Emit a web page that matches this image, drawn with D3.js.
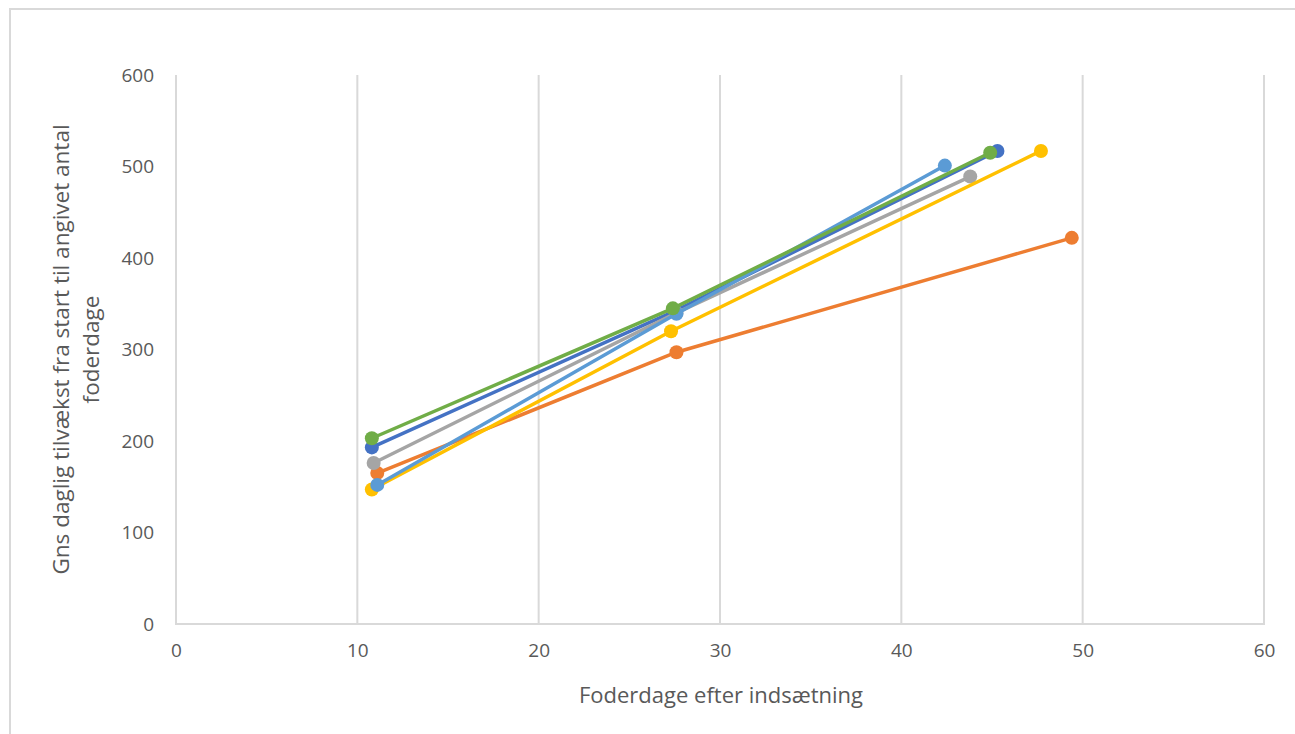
<!DOCTYPE html>
<html>
<head>
<meta charset="utf-8">
<script src="https://cdn.jsdelivr.net/npm/d3@7"></script>
<style>
  html, body { margin: 0; padding: 0; background: #fff; }
  svg { display: block; }
  text { font-family: "Open Sans", "Liberation Sans", sans-serif; fill: #595959; }
</style>
</head>
<body>
<svg id="chart" width="1295" height="734"></svg>
<script>
// Feeding days after insertion (x) and average daily gain (y) for each series
const seriesNames = ["Serie 1", "Serie 2", "Serie 3", "Serie 4", "Serie 5", "Serie 6"];
const seriesColors = ["#4472C4", "#ED7D31", "#A5A5A5", "#FFC000", "#5B9BD5", "#70AD47"];
const seriesDays = [
  [10.8, 27.5, 45.3],
  [11.1, 27.6, 49.4],
  [10.9, 27.6, 43.8],
  [10.8, 27.3, 47.7],
  [11.1, 27.6, 42.4],
  [10.8, 27.4, 44.9]
];
const seriesGain = [
  [193, 342, 517],
  [165, 297, 422],
  [176, 340, 489],
  [147, 320, 517],
  [152, 339, 501],
  [203, 345, 515]
];
const xTicks = [0, 10, 20, 30, 40, 50, 60];
const yTicks = [0, 100, 200, 300, 400, 500, 600];
const xTitle = "Foderdage efter indsætning";
const yTitleLines = ["Gns daglig tilvækst fra start til angivet antal", "foderdage"];

const svg = d3.select("#chart");

// outer chart frame
svg.append("rect")
  .attr("x", 10).attr("y", 9)
  .attr("width", 1300).attr("height", 740)
  .attr("fill", "#fff")
  .attr("stroke", "#d9d9d9").attr("stroke-width", 2);

const plot = { left: 176, right: 1264, top: 75, bottom: 624 };
const x = d3.scaleLinear().domain([0, 60]).range([plot.left, plot.right]);
const y = d3.scaleLinear().domain([0, 600]).range([plot.bottom, plot.top]);

// vertical gridlines
svg.append("g")
  .selectAll("line")
  .data(xTicks)
  .join("line")
  .attr("x1", d => x(d)).attr("x2", d => x(d))
  .attr("y1", plot.top).attr("y2", plot.bottom)
  .attr("stroke", "#d9d9d9").attr("stroke-width", 2);

// baseline
svg.append("line")
  .attr("x1", plot.left - 1).attr("x2", plot.right + 1)
  .attr("y1", plot.bottom).attr("y2", plot.bottom)
  .attr("stroke", "#d9d9d9").attr("stroke-width", 2);

// x axis labels
const xAxis = d3.axisBottom(x).tickValues(xTicks).tickSize(0).tickPadding(20);
const gx = svg.append("g").attr("transform", `translate(0,${plot.bottom})`).call(xAxis);
gx.select(".domain").remove();
gx.selectAll("text").style("font-size", "19px").attr("fill", "#595959");

// y axis labels
const yAxis = d3.axisLeft(y).tickValues(yTicks).tickSize(0).tickPadding(22);
const gy = svg.append("g").attr("transform", `translate(${plot.left},0)`).call(yAxis);
gy.select(".domain").remove();
gy.selectAll("text").style("font-size", "19px").attr("fill", "#595959");

// axis titles
svg.append("text")
  .attr("x", (plot.left + plot.right) / 2 + 1).attr("y", 703)
  .attr("text-anchor", "middle")
  .style("font-size", "22px")
  .text(xTitle);

const yTitle = svg.append("text")
  .attr("transform", `translate(69,${(plot.top + plot.bottom) / 2}) rotate(-90)`)
  .attr("text-anchor", "middle")
  .style("font-size", "22.5px");
yTitleLines.forEach((line, i) => {
  yTitle.append("tspan").attr("x", 0).attr("dy", i === 0 ? 0 : 30).text(line);
});

// series lines and markers
const line = d3.line().x(d => x(d[0])).y(d => y(d[1]));
seriesNames.forEach((name, i) => {
  const pts = seriesDays[i].map((d, j) => [d, seriesGain[i][j]]);
  const g = svg.append("g").attr("class", "series").attr("data-name", name);
  g.append("path")
    .attr("d", line(pts))
    .attr("fill", "none")
    .attr("stroke", seriesColors[i])
    .attr("stroke-width", 3.5)
    .attr("stroke-linecap", "round");
  g.selectAll("circle")
    .data(pts)
    .join("circle")
    .attr("cx", d => x(d[0])).attr("cy", d => y(d[1]))
    .attr("r", 7)
    .attr("fill", seriesColors[i]);
});
</script>
</body>
</html>
